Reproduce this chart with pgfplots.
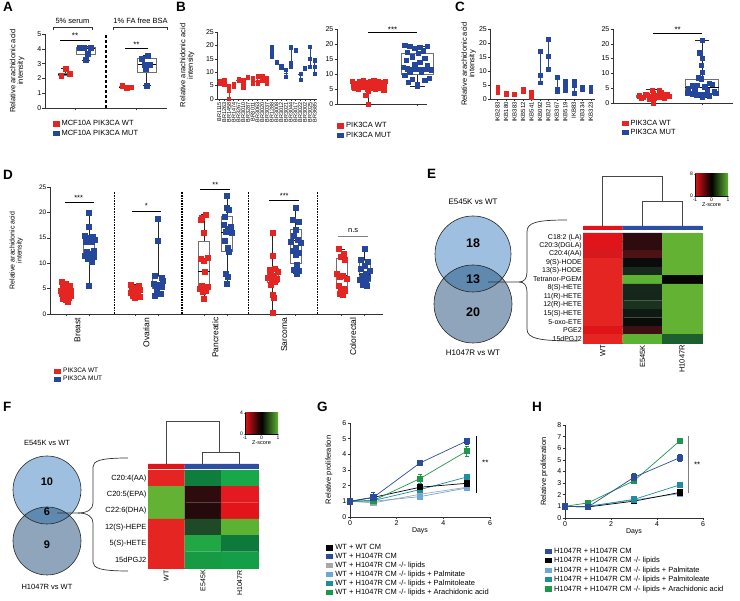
\documentclass[border=0pt]{standalone}
\usepackage{pgfplots}
\pgfplotsset{compat=1.18}
\usepgfplotslibrary{statistics}
\usepackage{fontspec}
\setmainfont{Liberation Sans}

\definecolor{mred}{HTML}{E52521}
\definecolor{mblue}{HTML}{25479B}
\definecolor{boxgray}{HTML}{707070}
\definecolor{cblue}{HTML}{2B4C9B}
\definecolor{cgrey}{HTML}{A8A8A8}
\definecolor{clight}{HTML}{6FA6DA}
\definecolor{cteal}{HTML}{1F8C9F}
\definecolor{cgreen}{HTML}{1D974B}
\definecolor{hred}{HTML}{E01419}
\definecolor{hgreen}{HTML}{5DB233}
\definecolor{hblue}{HTML}{2D4EA2}
\definecolor{vtop}{HTML}{9EBFDF}
\definecolor{vbot}{HTML}{8EA5BC}
\definecolor{vmid}{HTML}{5F89AF}

\newcommand{\fs}[1]{\fontsize{#1}{#1}\selectfont}

\pgfplotsset{
  base/.style={scale only axis, anchor=south west, clip=false,
    axis x line*=bottom, axis y line*=left,
    axis line style={line width=0.6pt, black!80},
    tick style={line width=0.5pt, black!80},
    tick align=outside, major tick length=2.5pt,
    tick label style={font=\fs{7}, inner sep=1pt},
    label style={font=\fs{7.5}},
    /pgf/number format/assume math mode=true,
    legend cell align=left,
    legend image code/.code={\path[##1] (0pt,-2.6pt) rectangle (7pt,2.6pt);},
    boxplot/every median/.style={black, line width=0.8pt},
    boxplot/every whisker/.style={black!85},
  },
  sq/.style={only marks, mark=square*, mark size=#1, mark options={solid}},
  gl/.style={color=#1, mark=square*, mark size=2.6pt, line width=0.7pt, mark options={solid},
    error bars/y dir=both, error bars/y explicit, error bars/error bar style={line width=0.6pt, color=#1},
    error bars/error mark options={rotate=90, mark size=2pt, line width=0.6pt}},
}

% boxplot: pos, lw, lq, med, uq, uw, box width, whisker width
\newcommand{\bx}[8]{\addplot[boxplot prepared={draw direction=y, draw position=#1, lower whisker=#2, lower quartile=#3, median=#4, upper quartile=#5, upper whisker=#6, box extend=#7, whisker extend=#8}, draw=boxgray, line width=0.6pt, solid, mark=none, forget plot] coordinates {};}
% heatmap cell: x0, x1, y0, y1, colour
\newcommand{\hc}[5]{\addplot[draw={#5}, line width=0.2pt, fill={#5}, forget plot] coordinates {(#1,#3) (#2,#3) (#2,#4) (#1,#4) (#1,#3)};}

\begin{document}
\begin{tikzpicture}
\useasboundingbox (0,0) rectangle (740pt,601pt);

%================ A =================
\begin{axis}[base, at={(45pt,493pt)}, width=122pt, height=74pt,
  xmin=0, xmax=6, ymin=0, ymax=5, ytick={0,1,2,3,4,5}, xtick={1.5,4.5}, xticklabels={},
  ylabel={Relative arachidonic acid\\intensity}, ylabel style={align=center, at={(axis description cs:-0.14,0.5)}, anchor=south},
  legend style={at={(axis description cs:0.06,-0.14)}, anchor=north west, draw=none, fill=none, font=\fs{7.5}, row sep=-1.5pt, inner sep=0pt}]
\addlegendimage{fill=mred, draw=none}\addlegendentry{MCF10A PIK3CA WT}
\addlegendimage{fill=mblue, draw=none}\addlegendentry{MCF10A PIK3CA MUT}
\addplot[black, line width=1.5pt, dash pattern=on 3pt off 2pt, forget plot] coordinates {(3,0) (3,5)};
\bx{1}{2.2}{2.22}{2.3}{2.35}{2.65}{0.7}{0.4}
\bx{2}{3.25}{3.6}{4.05}{4.1}{4.15}{0.9}{0.4}
\bx{4}{1.35}{1.37}{1.4}{1.45}{1.5}{0.7}{0.4}
\bx{5}{1.5}{2.4}{2.95}{3.35}{3.55}{0.9}{0.4}
\addplot[sq=2.4pt, mred, forget plot] coordinates {(0.8,2.2)(1.0,2.65)(1.2,2.3)(3.8,1.5)(4.0,1.35)(4.2,1.4)};
\addplot[sq=2.4pt, mblue, forget plot] coordinates {(1.7,4.1)(1.9,4.05)(2.25,4.1)(2.1,3.65)(2.0,3.25)(4.75,3.35)(5.05,3.55)(4.9,2.95)(5.15,2.95)(4.95,2.65)(5.0,1.5)};
\addplot[black, line width=0.5pt, forget plot] coordinates {(0.75,4.6)(2.2,4.6)};
\node[font=\fs{8}] at (axis cs:1.48,4.85) {**};
\addplot[black, line width=0.5pt, forget plot] coordinates {(3.95,4.05)(5.05,4.05)};
\node[font=\fs{8}] at (axis cs:4.5,4.3) {**};
\addplot[black!80, line width=0.5pt, forget plot] coordinates {(0.4,5.3)(0.4,5.45)(2.3,5.45)(2.3,5.3)};
\node[font=\fs{7.5}] at (axis cs:1.35,5.9) {5\% serum};
\addplot[black!80, line width=0.5pt, forget plot] coordinates {(3.35,5.3)(3.35,5.45)(6.0,5.45)(6.0,5.3)};
\node[font=\fs{7.5}] at (axis cs:4.7,5.9) {1\% FA free BSA};
\end{axis}

%================ B1 =================
\begin{axis}[base, at={(217pt,502pt)}, width=100pt, height=67pt,
  xmin=0.5, xmax=21.5, ymin=0, ymax=25, ytick={0,5,10,15,20,25}, xtick={1,...,21}, major tick length=2pt,
  xticklabels={BR1115,BR1263,BR1458,BR1474,BR3267,BR3010,BR3287,BR3011,BR3063,BR3020,BR3037,BR1288,BR3008,BR3012,BR3021,BR3044,BR3017,BR3022,BR3002,BR3025,BR3685},
  xticklabel style={rotate=90, anchor=east, font=\fs{5.5}},
  ylabel={Relative arachidonic acid\\intensity}, ylabel style={align=center, at={(axis description cs:-0.19,0.5)}, anchor=south}]
\addplot[only marks, mark=-, mark size=2pt, mred, error bars/.cd, y dir=both, y explicit, error bar style={mred, line width=0.6pt}, error mark options={mred, mark size=1pt}]
 coordinates {(1,6.5) += (0,0.3) -= (0,0.7) (2,6.0) += (0,1.0) -= (0,0.7) (3,3.2) += (0,1.6) -= (0,3.2) (4,5.1) += (0,0.5) -= (0,0.3) (5,7.1) += (0,0.4) -= (0,0.3) (6,5.5) += (0,1.5) -= (0,1.2) (7,8.1) += (0,0.2) -= (0,0.2) (8,6.8) += (0,1.2) -= (0,1.0) (9,6.5) += (0,2.0) -= (0,0.7) (10,7.7) += (0,0.8) -= (0,0.9) (11,7.4) += (0,0.6) -= (0,1.6)};
\addplot[only marks, mark=-, mark size=2pt, mblue, error bars/.cd, y dir=both, y explicit, error bar style={mblue, line width=0.6pt}, error mark options={mblue, mark size=1pt}]
 coordinates {(12,17.5) += (0,1.8) -= (0,1.5) (13,13.65) += (0,0.15) -= (0,0.15) (14,12.15) += (0,0.35) -= (0,0.35) (15,9.65) += (0,1.35) -= (0,1.35) (16,13.5) += (0,5.8) -= (0,1.3) (17,18.35) += (0,0.15) -= (0,0.15) (18,9.4) += (0,0.1) -= (0,2.2) (19,11.55) += (0,0.05) -= (0,0.05) (20,15) += (0,4.5) -= (0,3) (21,12) += (0,2.5) -= (0,2.5)};
\addplot[sq=1.6pt, mred] coordinates {(1,6.8)(1,6.5)(1,5.8)(2,7.0)(2,6.0)(2,5.3)(3,4.8)(3,3.2)(3,0)(4,5.6)(4,5.1)(4,4.8)(5,7.5)(5,7.1)(5,6.8)(6,7.0)(6,6.0)(6,5.0)(6,4.3)(7,8.3)(7,7.9)(8,8.0)(8,6.8)(8,5.8)(9,8.5)(9,6.5)(9,5.8)(10,8.5)(10,7.7)(10,6.8)(11,8.0)(11,7.4)(11,5.8)};
\addplot[sq=1.6pt, mblue] coordinates {(12,19.3)(12,17.5)(12,16)(13,13.8)(13,13.5)(14,12.5)(14,11.8)(15,11.0)(15,8.3)(16,19.3)(16,13.5)(16,12.2)(17,18.5)(17,18.2)(18,9.5)(18,9.4)(18,7.2)(19,11.6)(19,11.5)(20,19.5)(20,15)(20,12)(21,14.5)(21,12)(21,9.5)};
\end{axis}

%================ B2 =================
\begin{axis}[base, at={(337pt,497pt)}, width=90pt, height=75pt,
  xmin=0.37, xmax=2.2, ymin=0, ymax=25, ytick={0,5,10,15,20,25}, xtick={1,2}, xticklabels={},
  legend style={at={(axis description cs:0.0,-0.22)}, anchor=north west, draw=none, fill=none, font=\fs{7.5}, row sep=-1.5pt, inner sep=0pt}]
\addlegendimage{fill=mred, draw=none}\addlegendentry{PIK3CA WT}
\addlegendimage{fill=mblue, draw=none}\addlegendentry{PIK3CA MUT}
\bx{1}{0}{5.0}{6.0}{7.2}{7.8}{0.68}{0.3}
\bx{2}{5.9}{10}{11.6}{17}{19.3}{0.64}{0.3}
\addplot[sq=2.2pt, mred, forget plot] coordinates {(0.68,7.6)(0.75,6.9)(0.82,7.4)(0.9,7.7)(0.97,7.2)(1.05,7.5)(1.12,7.8)(1.2,7.6)(1.28,7.3)(1.35,7.5)(0.7,6.2)(0.78,5.9)(0.86,6.5)(0.95,6.0)(1.02,6.4)(1.1,6.1)(1.18,6.6)(1.26,5.8)(1.33,6.3)(0.72,5.2)(0.8,5.0)(0.88,5.5)(0.98,4.9)(1.08,5.3)(1.15,5.0)(1.25,5.4)(1.32,4.8)(1.0,4.2)(0.95,3.0)(1.0,0.0)};
\addplot[sq=2.2pt, mblue, forget plot] coordinates {(1.75,19.5)(1.85,19.2)(2.05,19.0)(2.2,19.3)(1.95,18.5)(2.12,17.8)(1.8,17.3)(2.02,17.0)(1.9,15.8)(2.15,15.2)(1.78,14.5)(2.05,14.0)(1.95,13.3)(2.2,12.8)(1.72,12.2)(1.8,11.8)(1.9,11.6)(2.0,11.5)(2.1,11.5)(2.2,11.7)(2.28,11.4)(1.85,10.8)(2.08,10.5)(1.75,9.5)(2.25,8.5)(1.9,8.2)(2.15,8.0)(1.82,7.3)(2.0,6.5)(2.0,5.9)};
\addplot[black, line width=0.5pt, forget plot] coordinates {(1,23.8)(2,23.8)};
\node[font=\fs{8}] at (axis cs:1.5,24.9) {***};
\end{axis}

%================ C1 =================
\begin{axis}[base, at={(490pt,502pt)}, width=105pt, height=70pt,
  xmin=0.1, xmax=12.5, ymin=0, ymax=25, ytick={0,5,10,15,20,25}, xtick={1,...,12}, major tick length=2pt,
  xticklabels={IKB283,IKB180,IKB383,IKB512,IKB541,IKB092,IKB210,IKB367,IKB519,IKB83,IKB334,IKB323},
  xticklabel style={rotate=90, anchor=east, font=\fs{6}},
  ylabel={Relative arachidonic acid\\intensity}, ylabel style={align=center, at={(axis description cs:-0.1,0.5)}, anchor=south}]
\addplot[only marks, mark=-, mark size=2pt, mred, error bars/.cd, y dir=both, y explicit, error bar style={mred, line width=0.6pt}, error mark options={mred, mark size=1pt}]
 coordinates {(1,2.5) += (0,1.8) -= (0,0.2) (2,1.9) += (0,0.3) -= (0,0.3) (3,1.6) += (0,0.1) -= (0,0.1) (4,3.1) += (0,0.3) -= (0,0.5) (5,1.5) += (0,0.8) -= (0,1.0)};
\addplot[only marks, mark=-, mark size=2pt, mblue, error bars/.cd, y dir=both, y explicit, error bar style={mblue, line width=0.6pt}, error mark options={mblue, mark size=1pt}]
 coordinates {(6,8.5) += (0,8.5) -= (0,2.7) (7,15.2) += (0,6.1) -= (0,4.7) (8,3.4) += (0,4.5) -= (0,0.7) (9,5) += (0,1.5) -= (0,2) (10,5) += (0,1.3) -= (0,3) (11,3.7) += (0,0.6) -= (0,0.2) (12,3.0) += (0,1.3) -= (0,0.1)};
\addplot[sq=1.9pt, mred] coordinates {(1,4.3)(1,2.5)(1,2.3)(2,2.2)(2,1.9)(2,1.6)(3,1.7)(3,1.6)(3,1.5)(4,3.4)(4,3.1)(4,2.6)(5,2.3)(5,1.8)(5,1.2)(5,0.5)};
\addplot[sq=1.9pt, mblue] coordinates {(6,17)(6,8.5)(6,5.8)(7,21.3)(7,15.2)(7,10.5)(8,7.9)(8,3.5)(8,3.3)(8,2.7)(9,6.5)(9,5)(9,3)(10,6.3)(10,5)(10,2)(11,4.3)(11,3.7)(11,3.5)(12,4.3)(12,3.0)(12,2.9)};
\end{axis}

%================ C2 =================
\begin{axis}[base, at={(613pt,498pt)}, width=120pt, height=74pt,
  xmin=0.18, xmax=2.63, ymin=0, ymax=25, ytick={0,5,10,15,20,25}, xtick={1,2}, xticklabels={},
  legend style={at={(axis description cs:0.07,-0.2)}, anchor=north west, draw=none, fill=none, font=\fs{7.5}, row sep=-1.5pt, inner sep=0pt}]
\addlegendimage{fill=mred, draw=none}\addlegendentry{PIK3CA WT}
\addlegendimage{fill=mblue, draw=none}\addlegendentry{PIK3CA MUT}
\bx{1}{0}{1.8}{2.2}{2.7}{4.5}{0.68}{0.3}
\bx{2}{2.0}{3.4}{5.3}{8.0}{21.3}{0.68}{0.3}
\addplot[sq=2.2pt, mred, forget plot] coordinates {(0.72,2.4)(0.8,2.0)(0.88,2.6)(0.95,2.2)(1.02,1.8)(1.1,2.5)(1.18,2.1)(1.25,2.7)(1.32,2.3)(0.75,1.6)(0.85,3.0)(0.92,1.5)(1.0,3.3)(1.08,1.9)(1.15,3.5)(1.22,1.7)(1.28,2.9)(0.98,4.4)(1.12,4.1)(1.0,0.0)};
\addplot[sq=2.2pt, mblue, forget plot] coordinates {(2.0,21.3)(1.95,17.0)(2.0,15.2)(1.98,12.8)(2.0,10.5)(1.92,8.6)(1.98,8.2)(2.15,6.6)(2.2,6.3)(1.8,5.8)(1.9,6.0)(2.05,5.5)(1.72,5.0)(1.85,4.5)(2.1,4.3)(2.25,3.8)(1.7,3.5)(1.8,3.2)(1.95,3.0)(2.1,3.1)(2.28,3.4)(1.88,2.6)(2.02,2.8)(2.0,2.0)(2.15,2.5)};
\addplot[black, line width=0.5pt, forget plot] coordinates {(1,23.5)(2,23.5)};
\node[font=\fs{8}] at (axis cs:1.5,24.6) {**};
\end{axis}

%================ D =================
\begin{axis}[base, at={(50pt,287pt)}, width=333pt, height=127pt,
  xmin=0.3, xmax=14.8, ymin=0, ymax=25, ytick={0,5,10,15,20,25}, tick label style={font=\fs{6.5}},
  xtick={1,2,4,5,7,8,10,11,13,14}, xticklabels={},
  extra x ticks={1.5,4.5,7.5,10.5,13.5}, extra x tick labels={Breast,Ovarian,Pancreatic,Sarcoma,Colorectal},
  extra x tick style={major tick length=0pt, tick label style={rotate=90, anchor=east, font=\fs{8.5}, inner sep=3.5pt}},
  ylabel={Relative arachidonic acid\\intensity}, ylabel style={align=center, font=\fs{7}, at={(axis description cs:-0.07,0.5)}, anchor=south},
  legend style={at={(axis description cs:0.012,-0.41)}, anchor=north west, draw=none, fill=none, font=\fs{6.5}, row sep=-2pt, inner sep=0pt}]
\addlegendimage{fill=mred, draw=none}\addlegendentry{PIK3CA WT}
\addlegendimage{fill=mblue, draw=none}\addlegendentry{PIK3CA MUT}
\addplot[black, line width=1.6pt, dash pattern=on 0.8pt off 0.8pt, forget plot] coordinates {(3.1,0)(3.1,24)};
\addplot[black, line width=1.6pt, dash pattern=on 0.8pt off 0.8pt, forget plot] coordinates {(6.05,0)(6.05,24)};
\addplot[black, line width=1.6pt, dash pattern=on 0.8pt off 0.8pt, forget plot] coordinates {(8.95,0)(8.95,24)};
\addplot[black, line width=1.6pt, dash pattern=on 0.8pt off 0.8pt, forget plot] coordinates {(11.95,0)(11.95,24)};
\bx{1}{2.5}{3.5}{4.4}{4.9}{6.4}{0.5}{0.25}
\bx{2}{5.6}{11.5}{14.3}{15.0}{20}{0.5}{0.25}
\bx{4}{3.2}{3.6}{4.3}{5.0}{5.8}{0.5}{0.25}
\bx{5}{3.6}{5.0}{5.8}{7.5}{18.7}{0.5}{0.25}
\bx{7}{3.0}{5.0}{8.3}{14.4}{19.6}{0.5}{0.25}
\bx{8}{6.0}{12.4}{16.1}{19.2}{23.2}{0.5}{0.25}
\bx{10}{0.2}{6.2}{7.2}{9.0}{16.1}{0.5}{0.25}
\bx{11}{8.0}{10.0}{14.4}{16.6}{21.0}{0.5}{0.25}
\bx{13}{3.8}{5.0}{7.5}{11.0}{12.8}{0.5}{0.25}
\bx{14}{5.5}{6.5}{7.8}{10.6}{12.8}{0.5}{0.25}
\addplot[sq=2.5pt, mred, forget plot] coordinates {
 (0.8,6.4)(1.0,6.0)(1.15,5.6)(0.85,5.2)(1.1,5.0)(0.95,4.8)(1.2,4.6)(0.75,4.5)(1.05,4.4)(0.9,4.2)(1.15,4.1)(0.8,3.9)(1.0,3.8)(1.2,3.6)(0.9,3.4)(1.1,3.2)(0.85,3.0)(1.0,2.8)(1.05,2.5)(0.95,5.4)
 (3.8,5.8)(4.15,5.6)(4.0,5.2)(3.85,4.9)(4.2,4.7)(3.95,4.5)(4.1,4.3)(3.8,4.1)(4.05,3.9)(3.9,3.6)(4.2,3.4)(4.0,3.2)
 (7.1,19.6)(6.9,19.0)(6.85,18.6)(7.0,16.1)(7.15,11.0)(6.85,10.8)(7.0,10.5)(7.05,8.3)(6.9,5.6)(7.15,5.3)(6.8,5.0)(7.1,4.6)(6.95,4.4)(7.0,3.0)
 (10.0,16.1)(10.0,11.5)(10.1,9.0)(9.85,8.7)(10.2,8.3)(9.9,7.8)(10.05,7.5)(9.8,7.2)(10.15,7.0)(9.95,6.8)(10.1,6.3)(9.9,5.8)(10.0,3.8)(10.05,3.3)(10.0,0.2)
 (12.85,12.8)(13.1,11.8)(12.95,11.2)(13.15,10.6)(12.8,8.0)(13.05,7.6)(12.9,7.3)(13.2,7.0)(12.85,5.5)(13.1,5.0)(12.95,4.8)(13.15,4.5)(12.9,4.0)(13.05,3.8)};
\addplot[sq=2.5pt, mblue, forget plot] coordinates {
 (2.0,20.0)(2.0,17.2)(1.8,15.5)(2.15,15.3)(1.95,15.0)(2.25,14.6)(1.85,14.3)(2.1,14.2)(2.2,12.5)(1.9,12.2)(2.05,11.8)(1.8,11.5)(2.2,11.2)(1.95,10.8)(2.1,10.3)(2.0,5.6)
 (5.0,18.7)(5.0,14.5)(4.85,7.5)(5.15,7.2)(5.2,6.5)(4.8,6.0)(5.05,5.8)(4.9,5.5)(5.15,5.3)(4.95,4.3)(5.1,4.0)(4.85,3.6)
 (8.0,23.2)(8.0,21.0)(8.1,20.5)(7.9,19.2)(7.85,17.5)(8.15,17.2)(8.05,16.8)(7.95,16.2)(8.2,16.0)(7.9,14.5)(8.05,13.0)(8.1,12.3)(7.95,8.0)(8.05,7.3)(8.0,6.0)
 (11.0,21.0)(10.85,18.5)(11.15,18.2)(11.0,16.6)(10.9,15.5)(11.1,14.6)(10.8,14.3)(11.2,14.0)(11.0,13.0)(10.85,12.5)(11.15,12.0)(11.0,11.6)(11.05,9.8)(10.9,8.8)(11.15,8.5)(11.05,8.0)
 (14.0,12.8)(13.85,10.6)(14.15,10.3)(14.0,9.5)(13.85,9.0)(14.2,8.6)(14.05,8.0)(13.9,7.6)(14.15,7.2)(13.8,6.8)(14.05,6.3)(13.9,5.8)(14.1,5.5)};
\addplot[black, line width=0.5pt, forget plot] coordinates {(0.95,22)(2.2,22)};
\node[font=\fs{7.5}] at (axis cs:1.55,22.9) {***};
\addplot[black, line width=0.5pt, forget plot] coordinates {(3.85,20.3)(5.15,20.3)};
\node[font=\fs{7.5}] at (axis cs:4.5,21.2) {*};
\addplot[black, line width=0.5pt, forget plot] coordinates {(6.85,24.6)(8.15,24.6)};
\node[font=\fs{7.5}] at (axis cs:7.5,25.5) {**};
\addplot[black, line width=0.5pt, forget plot] coordinates {(9.85,22.4)(11.15,22.4)};
\node[font=\fs{7.5}] at (axis cs:10.5,23.3) {***};
\addplot[gray, line width=0.8pt, forget plot] coordinates {(12.85,15.2)(14.15,15.2)};
\node[font=\fs{7.5}] at (axis cs:13.5,16.5) {n.s};
\end{axis}

%================ E heatmap =================
\begin{axis}[at={(583pt,258pt)}, anchor=south west, scale only axis, width=119pt, height=110pt,
  xmin=0, xmax=3, ymin=0, ymax=13, clip=false, axis line style={draw=none}, major tick length=0pt,
  xtick={0.5,1.5,2.5}, xticklabels={WT,E545K,H1047R}, xticklabel style={rotate=90, anchor=east, font=\fs{7.5}, inner sep=2pt},
  ytick={0.5,1.5,...,12.5},
  yticklabels={15dPGJ2,PGE2,5-oxo-ETE,15(S)-HETE,12(R)-HETE,11(R)-HETE,8(S)-HETE,Tetranor-PGEM,13(S)-HODE,9(S)-HODE,C20:4(AA),C20:3(DGLA),C18:2 (LA)},
  yticklabel style={font=\fs{7}, inner sep=1pt}]
\hc{0}{1}{12}{13}{rgb,255:red,224;green,20;blue,25}
\hc{0}{1}{11}{12}{rgb,255:red,222;green,22;blue,27}
\hc{0}{1}{10}{11}{rgb,255:red,214;green,25;blue,30}
\hc{0}{1}{2}{10}{rgb,255:red,229;green,37;blue,34}
\hc{0}{1}{1}{2}{rgb,255:red,222;green,20;blue,25}
\hc{0}{1}{0}{1}{rgb,255:red,229;green,37;blue,34}
\hc{1}{2}{11}{13}{rgb,255:red,45;green,11;blue,14}
\hc{1}{2}{10}{11}{rgb,255:red,77;green,19;blue,20}
\hc{1}{2}{9}{10}{rgb,255:red,11;green,11;blue,11}
\hc{1}{2}{8}{9}{rgb,255:red,23;green,42;blue,28}
\hc{1}{2}{7}{8}{rgb,255:red,93;green,178;blue,51}
\hc{1}{2}{6}{7}{rgb,255:red,22;green,40;blue,27}
\hc{1}{2}{5}{6}{rgb,255:red,22;green,38;blue,26}
\hc{1}{2}{4}{5}{rgb,255:red,26;green,50;blue,30}
\hc{1}{2}{3}{4}{rgb,255:red,15;green,26;blue,18}
\hc{1}{2}{2}{3}{rgb,255:red,10;green,12;blue,10}
\hc{1}{2}{1}{2}{rgb,255:red,63;green,16;blue,18}
\hc{1}{2}{0}{1}{rgb,255:red,93;green,178;blue,51}
\hc{2}{3}{8}{13}{rgb,255:red,100;green,178;blue,52}
\hc{2}{3}{7}{8}{rgb,255:red,6;green,6;blue,6}
\hc{2}{3}{1}{7}{rgb,255:red,100;green,178;blue,52}
\hc{2}{3}{0}{1}{rgb,255:red,30;green,95;blue,48}
\hc{0}{1}{13.45}{13.85}{hred}
\hc{1}{3}{13.45}{13.85}{hblue}
\addplot[gray!55!black, line width=1pt, forget plot] coordinates {(0.5,13.85)(0.5,19.7)(2,19.7)(2,16.7)};
\addplot[gray!55!black, line width=1pt, forget plot] coordinates {(1.5,13.85)(1.5,16.7)(2.5,16.7)(2.5,13.85)};
\end{axis}

%================ E colour key =================
\begin{axis}[at={(695pt,405pt)}, anchor=south west, scale only axis, width=33pt, height=22pt,
  xmin=-1, xmax=1, ymin=0, ymax=8, axis x line*=bottom, axis y line*=left, xtick={-1,0,1}, ytick={0,8},
  tick align=outside, major tick length=1.5pt, tick label style={font=\fs{5}, inner sep=0.5pt},
  xlabel={Z-score}, xlabel style={font=\fs{5.5}, inner sep=0.5pt},
  /pgf/number format/assume math mode=true, axis line style={line width=0.4pt}, tick style={line width=0.4pt}, axis on top, clip=false]
\shade[left color=hred, right color=hgreen, middle color=black] (axis cs:-1,0) rectangle (axis cs:1,8);
\end{axis}

%================ F heatmap =================
\begin{axis}[at={(148pt,33pt)}, anchor=south west, scale only axis, width=110pt, height=98pt,
  xmin=0, xmax=3, ymin=0, ymax=6, clip=false, axis line style={draw=none}, major tick length=0pt,
  xtick={0.5,1.5,2.5}, xticklabels={WT,E545K,H1047R}, xticklabel style={rotate=90, anchor=east, font=\fs{7}, inner sep=2pt},
  ytick={0.5,1.5,...,5.5},
  yticklabels={15dPGJ2,5(S)-HETE,12(S)-HEPE,C22:6(DHA),C20:5(EPA),C20:4(AA)},
  yticklabel style={font=\fs{7.5}, inner sep=1.5pt}]
\hc{0}{1}{5}{6}{rgb,255:red,229;green,37;blue,34}
\hc{0}{1}{3}{5}{rgb,255:red,100;green,178;blue,52}
\hc{0}{1}{0}{3}{rgb,255:red,229;green,37;blue,34}
\hc{1}{2}{5}{6}{rgb,255:red,15;green,125;blue,60}
\hc{1}{2}{4}{5}{rgb,255:red,46;green,11;blue,13}
\hc{1}{2}{3}{4}{rgb,255:red,36;green,10;blue,11}
\hc{1}{2}{2}{3}{rgb,255:red,31;green,74;blue,40}
\hc{1}{2}{1}{2}{rgb,255:red,34;green,167;blue,69}
\hc{1}{2}{0}{1}{rgb,255:red,22;green,154;blue,67}
\hc{2}{3}{5}{6}{rgb,255:red,24;green,168;blue,74}
\hc{2}{3}{4}{5}{rgb,255:red,227;green,26;blue,31}
\hc{2}{3}{3}{4}{rgb,255:red,226;green,21;blue,26}
\hc{2}{3}{2}{3}{rgb,255:red,93;green,178;blue,52}
\hc{2}{3}{1}{2}{rgb,255:red,13;green,122;blue,59}
\hc{2}{3}{0}{1}{rgb,255:red,19;green,158;blue,71}
\hc{0}{1}{6.12}{6.37}{hred}
\hc{1}{3}{6.12}{6.37}{hblue}
\addplot[gray!55!black, line width=1pt, forget plot] coordinates {(0.5,6.37)(0.5,8.94)(1.96,8.94)(1.96,7.1)};
\addplot[gray!55!black, line width=1pt, forget plot] coordinates {(1.5,6.37)(1.5,7.1)(2.5,7.1)(2.5,6.37)};
\end{axis}

%================ F colour key =================
\begin{axis}[at={(245pt,167pt)}, anchor=south west, scale only axis, width=33pt, height=21pt,
  xmin=-1, xmax=1, ymin=0, ymax=4, axis x line*=bottom, axis y line*=left, xtick={-1,0,1}, ytick={0,4},
  tick align=outside, major tick length=1.5pt, tick label style={font=\fs{5}, inner sep=0.5pt},
  xlabel={Z-score}, xlabel style={font=\fs{5.5}, inner sep=0.5pt},
  /pgf/number format/assume math mode=true, axis line style={line width=0.4pt}, tick style={line width=0.4pt}, axis on top, clip=false]
\shade[left color=hred, right color=hgreen, middle color=black] (axis cs:-1,0) rectangle (axis cs:1,4);
\end{axis}

%================ G =================
\begin{axis}[base, at={(350pt,84pt)}, width=140pt, height=94pt,
  xmin=0, xmax=6, ymin=0, ymax=6, xtick={0,2,4,6}, ytick={0,1,2,3,4,5,6},
  xlabel={Days}, xlabel style={font=\fs{7}, inner sep=1pt},
  ylabel={Relative proliferation}, ylabel style={at={(axis description cs:-0.1,0.5)}, anchor=south},
  legend style={at={(axis description cs:-0.17,-0.27)}, anchor=north west, draw=none, fill=none, font=\fs{7.5}, row sep=-2pt, inner sep=0pt}]
\addlegendimage{fill=black, draw=none}\addlegendentry{WT + WT CM}
\addlegendimage{fill=cblue, draw=none}\addlegendentry{WT + H1047R CM}
\addlegendimage{fill=cgrey, draw=none}\addlegendentry{WT + H1047R CM -/- lipids}
\addlegendimage{fill=clight, draw=none}\addlegendentry{WT + H1047R CM -/- lipids + Palmitate}
\addlegendimage{fill=cteal, draw=none}\addlegendentry{WT + H1047R CM -/- lipids + Palmitoleate}
\addlegendimage{fill=cgreen, draw=none}\addlegendentry{WT + H1047R CM -/- lipids + Arachidonic acid}
\addplot[forget plot, gl=cgrey] coordinates {(0,1) +- (0,0.1) (1,0.9) +- (0,0.1) (3,1.45) +- (0,0.1) (5,1.9) +- (0,0.1)};
\addplot[forget plot, gl=clight] coordinates {(0,1) +- (0,0.1) (1,1.0) +- (0,0.1) (3,1.3) +- (0,0.1) (5,1.85) +- (0,0.1)};
\addplot[forget plot, gl=cteal] coordinates {(0,1) +- (0,0.1) (1,1.05) +- (0,0.1) (3,1.75) +- (0,0.1) (5,2.55) +- (0,0.2)};
\addplot[forget plot, gl=black] coordinates {(0,1) +- (0,0.1) (1,1.25) +- (0,0.15) (3,1.9) +- (0,0.15) (5,2.15) +- (0,0.2)};
\addplot[forget plot, gl=cgreen] coordinates {(0,1) +- (0,0.1) (1,1.05) +- (0,0.1) (3,2.45) +- (0,0.3) (5,4.2) +- (0,0.3)};
\addplot[forget plot, gl=cblue] coordinates {(0,1) +- (0,0.2) (1,1.25) +- (0,0.3) (3,3.45) +- (0,0.15) (5,4.85) +- (0,0.2)};
\addplot[black, line width=0.6pt, forget plot] coordinates {(5.4,5.2)(5.4,1.55)};
\node[font=\fs{8}] at (axis cs:5.8,3.45) {**};
\end{axis}

%================ H =================
\begin{axis}[base, at={(565pt,83pt)}, width=138pt, height=93pt,
  xmin=0, xmax=6, ymin=0, ymax=8, xtick={0,2,4,6}, ytick={0,1,2,3,4,5,6,7,8},
  xlabel={Days}, xlabel style={font=\fs{7}, inner sep=1pt},
  ylabel={Relative proliferation}, ylabel style={at={(axis description cs:-0.1,0.5)}, anchor=south},
  legend style={at={(axis description cs:-0.145,-0.3)}, anchor=north west, draw=none, fill=none, font=\fs{7.5}, row sep=-1.5pt, inner sep=0pt}]
\addlegendimage{fill=cblue, draw=none}\addlegendentry{H1047R + H1047R CM}
\addlegendimage{fill=black, draw=none}\addlegendentry{H1047R + H1047R CM -/- lipids}
\addlegendimage{fill=clight, draw=none}\addlegendentry{H1047R + H1047R CM -/- lipids + Palmitate}
\addlegendimage{fill=cteal, draw=none}\addlegendentry{H1047R + H1047R CM -/- lipids + Palmitoleate}
\addlegendimage{fill=cgreen, draw=none}\addlegendentry{H1047R + H1047R CM -/- lipids + Arachidonic acid}
\addplot[forget plot, gl=clight] coordinates {(0,1) +- (0,0.1) (1,1.0) +- (0,0.1) (3,1.55) +- (0,0.1) (5,2.1) +- (0,0.1)};
\addplot[forget plot, gl=black] coordinates {(0,1) +- (0,0.1) (1,0.95) +- (0,0.1) (3,1.45) +- (0,0.1) (5,2.2) +- (0,0.1)};
\addplot[forget plot, gl=cteal] coordinates {(0,1) +- (0,0.1) (1,1.0) +- (0,0.1) (3,1.6) +- (0,0.1) (5,2.85) +- (0,0.15)};
\addplot[forget plot, gl=cgreen] coordinates {(0,1) +- (0,0.1) (1,1.3) +- (0,0.1) (3,3.2) +- (0,0.2) (5,6.65) +- (0,0.15)};
\addplot[forget plot, gl=cblue] coordinates {(0,1) +- (0,0.1) (1,0.95) +- (0,0.15) (3,3.5) +- (0,0.35) (5,5.2) +- (0,0.3)};
\addplot[gray, line width=0.8pt, forget plot] coordinates {(5.35,7.07)(5.35,2.15)};
\node[font=\fs{8}] at (axis cs:5.75,4.6) {**};
\end{axis}

%================ Venn diagrams, braces, panel letters =================
\begin{scope}[x=1pt,y=1pt]
\fill[vbot] (473,297) circle [radius=39pt];
\fill[vtop] (473,347) circle [radius=38pt];
\begin{scope}\clip (473,347) circle [radius=38pt]; \fill[vmid] (473,297) circle [radius=39pt];\end{scope}
\draw[line width=0.6pt, black!85] (473,297) circle [radius=39pt] (473,347) circle [radius=38pt];
\node[font=\fs{12.5}\bfseries] at (473,358) {18};
\node[font=\fs{12.5}\bfseries] at (473,322) {13};
\node[font=\fs{12.5}\bfseries] at (473,289) {20};
\node[font=\fs{8}] at (473,399) {E545K vs WT};
\node[font=\fs{8}] at (473,248) {H1047R vs WT};
\draw[line width=0.7pt, black!80] (567,381) .. controls (535,381) and (527,378) .. (527,369) -- (527,329) .. controls (527,322) and (524,319) .. (519,319) -- (488,319);
\draw[line width=0.7pt, black!80] (519,319) .. controls (524,319) and (527,316) .. (527,309) -- (527,272) .. controls (527,262) and (540,260) .. (578,260);
\fill[vbot] (47,60) circle [radius=34pt];
\fill[vtop] (47,111) circle [radius=34pt];
\begin{scope}\clip (47,111) circle [radius=34pt]; \fill[vmid] (47,60) circle [radius=34pt];\end{scope}
\draw[line width=0.6pt, black!85] (47,60) circle [radius=34pt] (47,111) circle [radius=34pt];
\node[font=\fs{11}\bfseries] at (47,119) {10};
\node[font=\fs{11}\bfseries] at (47,89) {6};
\node[font=\fs{11}\bfseries] at (47,56) {9};
\node[font=\fs{7.5}] at (47,158) {E545K vs WT};
\node[font=\fs{7.5}] at (47,14) {H1047R vs WT};
\draw[line width=0.7pt, black!80] (128,143) .. controls (100,143) and (93,140) .. (93,134) -- (93,98) .. controls (93,92) and (88,88) .. (78,88) -- (57,88);
\draw[line width=0.7pt, black!80] (78,88) .. controls (88,88) and (93,84) .. (93,78) -- (93,39) .. controls (93,33) and (100,30) .. (128,30);
\node[anchor=north west, inner sep=0pt, font=\fs{13.5}\bfseries] at (3,599) {A};
\node[anchor=north west, inner sep=0pt, font=\fs{13.5}\bfseries] at (176,599) {B};
\node[anchor=north west, inner sep=0pt, font=\fs{13.5}\bfseries] at (455,599) {C};
\node[anchor=north west, inner sep=0pt, font=\fs{13.5}\bfseries] at (3,431) {D};
\node[anchor=north west, inner sep=0pt, font=\fs{13.5}\bfseries] at (427,432) {E};
\node[anchor=north west, inner sep=0pt, font=\fs{13.5}\bfseries] at (3,199) {F};
\node[anchor=north west, inner sep=0pt, font=\fs{13.5}\bfseries] at (317,199) {G};
\node[anchor=north west, inner sep=0pt, font=\fs{13.5}\bfseries] at (532,199) {H};
\end{scope}
\end{tikzpicture}
\end{document}
